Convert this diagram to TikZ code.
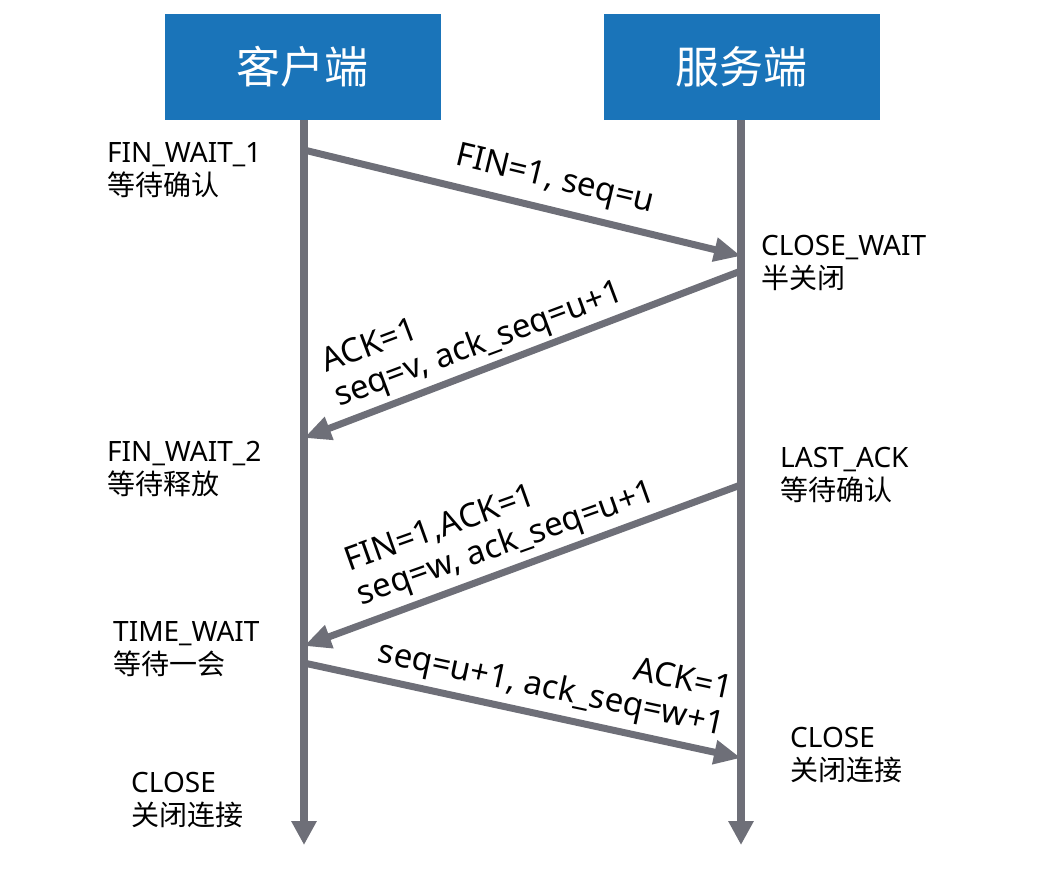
\documentclass[tikz,border=0pt]{standalone}
\usepackage{fontspec}
\setmainfont{Noto Sans}
\newfontfamily\cjk{Noto Sans CJK SC}
\usetikzlibrary{arrows.meta}
\definecolor{hdrblue}{HTML}{1A74B9}
\definecolor{linegray}{HTML}{6E6F78}
\tikzset{
  header/.style={fill=hdrblue, text=white, minimum width=276pt, minimum height=106pt, inner sep=0pt, font=\cjk\fontsize{44}{50}\selectfont},
  lifeline/.style={draw=linegray, line width=8pt, -{Triangle[length=24pt,width=24pt]}},
  msg/.style={draw=linegray, line width=7pt, -{Triangle[length=27pt,width=23pt]}},
  statelbl/.style={anchor=north west, inner sep=0pt, align=left, font=\fontsize{28}{33}\selectfont},
  msglbl/.style={inner sep=0pt, font=\fontsize{33}{36}\selectfont},
}
\begin{document}
\begin{tikzpicture}[x=1pt,y=-1pt]
\useasboundingbox (0,0) rectangle (1044,874);
% headers
\node[header] (client) at (302.5,67) {客户端};
\node[header] (server) at (741.5,67) {服务端};
% lifelines
\coordinate (cend) at (304,845);
\coordinate (send) at (741,845);
\draw[lifeline] (client.south -| cend) -- (cend);
\draw[lifeline] (server.south -| send) -- (send);
% message endpoints
\coordinate (m1a) at (304,150);
\coordinate (m1b) at (741,256);
\coordinate (m2a) at (741,271);
\coordinate (m2b) at (304,438);
\coordinate (m3a) at (738,486);
\coordinate (m3b) at (304,646);
\coordinate (m4a) at (304,663);
\coordinate (m4b) at (741,758);
\draw[msg] (m1a) -- (m1b);
\draw[msg] (m2a) -- (m2b);
\draw[msg] (m3a) -- (m3b);
\draw[msg] (m4a) -- (m4b);
% message labels
\node[msglbl, rotate=-13.5] (l1) at (555,181) {FIN=1, seq=u};
\node[msglbl, rotate=20.5, align=left] (l2) at (473,329) {ACK=1\\seq=v, ack\_seq=u+1};
\node[msglbl, rotate=19.6, align=left] (l3) at (501,528) {FIN=1,ACK=1\\seq=w, ack\_seq=u+1};
\node[msglbl, rotate=-12, align=right] (l4) at (555,673) {ACK=1\\seq=u+1, ack\_seq=w+1};
% state labels
\node[statelbl] (s1) at (107,142) {FIN\_WAIT\_1\\{\cjk 等待确认}};
\node[statelbl] (s2) at (761,235) {CLOSE\_WAIT\\{\cjk 半关闭}};
\node[statelbl] (s3) at (107,441) {FIN\_WAIT\_2\\{\cjk 等待释放}};
\node[statelbl] (s4) at (780,447) {LAST\_ACK\\{\cjk 等待确认}};
\node[statelbl] (s5) at (113,621) {TIME\_WAIT\\{\cjk 等待一会}};
\node[statelbl] (s6) at (790,727) {CLOSE\\{\cjk 关闭连接}};
\node[statelbl] (s7) at (131,772) {CLOSE\\{\cjk 关闭连接}};
\end{tikzpicture}
\end{document}
